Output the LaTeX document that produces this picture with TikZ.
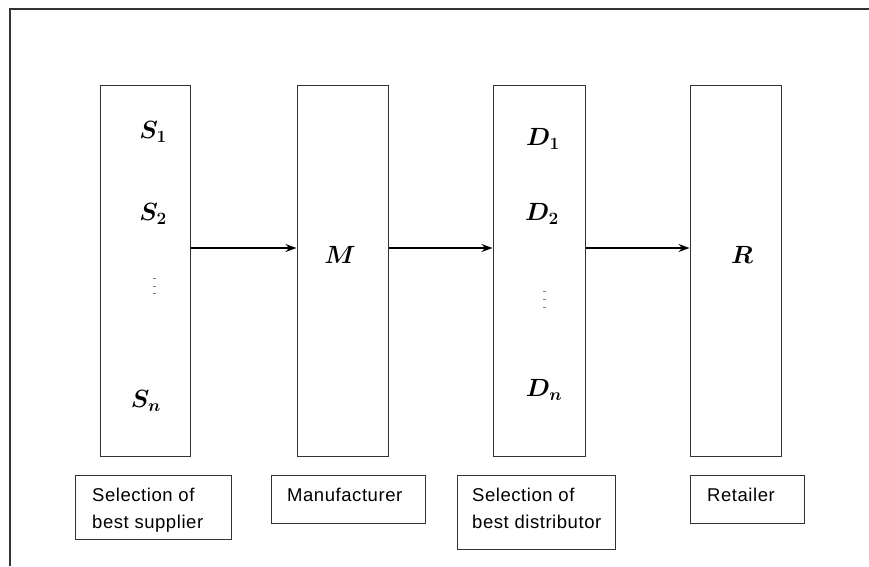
\documentclass[tikz,border=0pt]{standalone}
\usepackage{fontspec}
\usetikzlibrary{arrows.meta}
\newfontfamily\lblfont[LetterSpace=3]{Liberation Sans}
\begin{document}
\begin{tikzpicture}[x=1pt,y=1pt,
  frame/.style={draw=black!80,line width=1.3pt},
  tallbox/.style={draw=black!80,line width=1pt,rectangle,minimum width=91pt,minimum height=371pt,inner sep=0pt},
  lblbox/.style={draw=black!80,line width=1pt,rectangle,inner sep=0pt},
  lbltext/.style={anchor=base west,inner sep=0pt,font=\lblfont\fontsize{18.5}{20}\selectfont},
  mathlbl/.style={inner sep=0pt,font=\fontsize{25}{28}\selectfont\boldmath},
  flow/.style={line width=1.3pt,-{Stealth[length=11pt,width=8pt]}},
  dotdash/.style={draw=black!50,line width=0.8pt}]
\useasboundingbox (0,0) rectangle (869,-566);
\fill[white] (0,0) rectangle (869,-566);
\draw[frame] (10,-566) -- (10,-9) -- (869,-9);
% tall boxes
\node[tallbox,minimum width=90pt] (b1) at (145,-270.5) {};
\node[tallbox] (b2) at (342.5,-270.5) {};
\node[tallbox,minimum width=92pt] (b3) at (539,-270.5) {};
\node[tallbox] (b4) at (735.5,-270.5) {};
% contents
\node[mathlbl] (s1) at (153,-132) {$S_1$};
\node[mathlbl] (s2) at (153,-214) {$S_2$};
\node[mathlbl] (sn) at (146,-401) {$S_n$};
\node[mathlbl] (d1) at (543,-139) {$D_1$};
\node[mathlbl] (d2) at (542,-214) {$D_2$};
\node[mathlbl] (dn) at (544,-390) {$D_n$};
\node[mathlbl] (m) at (340,-255) {$M$};
\node[mathlbl] (r) at (742,-255) {$R$};
\foreach \y in {278,286,293} \draw[dotdash] (152.5,-\y) -- (155.5,-\y);
\foreach \y in {291,299,307} \draw[dotdash] (543,-\y) -- (546,-\y);
% arrows
\draw[flow] ([yshift=22.5pt]b1.east) -- ([yshift=22.5pt]b2.west);
\draw[flow] ([yshift=22.5pt]b2.east) -- ([yshift=22.5pt]b3.west);
\draw[flow] ([yshift=22.5pt]b3.east) -- ([yshift=22.5pt]b4.west);
% label boxes
\node[lblbox,minimum width=156pt,minimum height=64pt] (l1) at (153,-507) {};
\node[lblbox,minimum width=154pt,minimum height=48pt] (l2) at (348,-499) {};
\node[lblbox,minimum width=158pt,minimum height=74pt] (l3) at (536,-512) {};
\node[lblbox,minimum width=114pt,minimum height=48pt] (l4) at (747,-499) {};
\node[lbltext] (t1a) at (92,-501) {Selection of};
\node[lbltext] (t1b) at (92,-528) {best supplier};
\node[lbltext] (t2) at (287,-501) {Manufacturer};
\node[lbltext] (t3a) at (472,-501) {Selection of};
\node[lbltext] (t3b) at (472,-528) {best distributor};
\node[lbltext] (t4) at (707,-501) {Retailer};
\end{tikzpicture}
\end{document}
